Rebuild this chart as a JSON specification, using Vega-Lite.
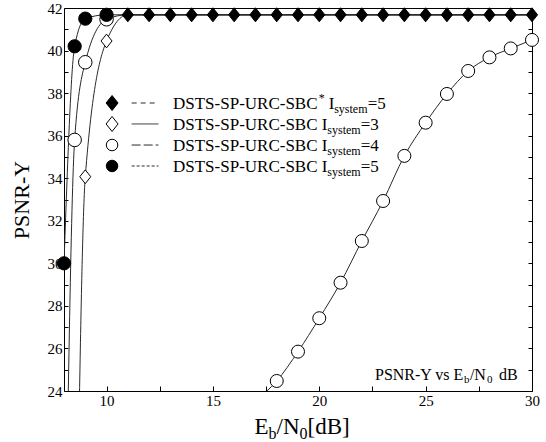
{
  "$schema": "https://vega.github.io/schema/vega-lite/v6.json",
  "width": 468,
  "height": 383,
  "autosize": {"type": "none"},
  "padding": {"left": 64, "top": 8, "right": 14, "bottom": 51},
  "background": "white",
  "config": {
    "view": {"stroke": "black", "strokeWidth": 1},
    "font": "Liberation Serif",
    "axis": {"grid": false, "domain": false, "labelFont": "Liberation Serif", "labelFontSize": 15, "labelColor": "black", "tickColor": "black", "labelOverlap": false, "labelFlush": false, "titleFont": "Liberation Serif", "titleColor": "black", "titleFontWeight": "normal"}
  },
  "datasets": {
    "curves": [
      {"s": "other", "x": 17, "y": 23.55, "mk": false},
      {"s": "other", "x": 18, "y": 24.47, "mk": true},
      {"s": "other", "x": 19, "y": 25.85, "mk": true},
      {"s": "other", "x": 20, "y": 27.42, "mk": true},
      {"s": "other", "x": 21, "y": 29.09, "mk": true},
      {"s": "other", "x": 22, "y": 31.05, "mk": true},
      {"s": "other", "x": 23, "y": 32.93, "mk": true},
      {"s": "other", "x": 24, "y": 35.05, "mk": true},
      {"s": "other", "x": 25, "y": 36.61, "mk": true},
      {"s": "other", "x": 26, "y": 37.96, "mk": true},
      {"s": "other", "x": 27, "y": 39.04, "mk": true},
      {"s": "other", "x": 28, "y": 39.68, "mk": true},
      {"s": "other", "x": 29, "y": 40.1, "mk": true},
      {"s": "other", "x": 30, "y": 40.5, "mk": true},
      {"s": "sys3", "x": 8.5, "y": 9, "mk": false},
      {"s": "sys3", "x": 9, "y": 34.07, "mk": true},
      {"s": "sys3", "x": 10, "y": 40.45, "mk": true},
      {"s": "sys3", "x": 11, "y": 41.68, "mk": false},
      {"s": "sys3", "x": 30, "y": 41.68, "mk": false},
      {"s": "sys4", "x": 8, "y": 11, "mk": false},
      {"s": "sys4", "x": 8.5, "y": 35.8, "mk": true},
      {"s": "sys4", "x": 9, "y": 39.45, "mk": true},
      {"s": "sys4", "x": 10, "y": 41.47, "mk": true},
      {"s": "sys4", "x": 11, "y": 41.68, "mk": false},
      {"s": "sys4", "x": 30, "y": 41.68, "mk": false},
      {"s": "sys5", "x": 8, "y": 30.0, "mk": true},
      {"s": "sys5", "x": 8.5, "y": 40.2, "mk": true},
      {"s": "sys5", "x": 9, "y": 41.5, "mk": true},
      {"s": "sys5", "x": 10, "y": 41.68, "mk": true},
      {"s": "sys5", "x": 11, "y": 41.68, "mk": false},
      {"s": "sys5", "x": 30, "y": 41.68, "mk": false},
      {"s": "star5", "x": 11, "y": 41.68, "mk": true},
      {"s": "star5", "x": 12, "y": 41.68, "mk": true},
      {"s": "star5", "x": 13, "y": 41.68, "mk": true},
      {"s": "star5", "x": 14, "y": 41.68, "mk": true},
      {"s": "star5", "x": 15, "y": 41.68, "mk": true},
      {"s": "star5", "x": 16, "y": 41.68, "mk": true},
      {"s": "star5", "x": 17, "y": 41.68, "mk": true},
      {"s": "star5", "x": 18, "y": 41.68, "mk": true},
      {"s": "star5", "x": 19, "y": 41.68, "mk": true},
      {"s": "star5", "x": 20, "y": 41.68, "mk": true},
      {"s": "star5", "x": 21, "y": 41.68, "mk": true},
      {"s": "star5", "x": 22, "y": 41.68, "mk": true},
      {"s": "star5", "x": 23, "y": 41.68, "mk": true},
      {"s": "star5", "x": 24, "y": 41.68, "mk": true},
      {"s": "star5", "x": 25, "y": 41.68, "mk": true},
      {"s": "star5", "x": 26, "y": 41.68, "mk": true},
      {"s": "star5", "x": 27, "y": 41.68, "mk": true},
      {"s": "star5", "x": 28, "y": 41.68, "mk": true},
      {"s": "star5", "x": 29, "y": 41.68, "mk": true},
      {"s": "star5", "x": 30, "y": 41.68, "mk": true}
    ],
    "leg": [
      {"s": "star5", "y": 37.535},
      {"s": "sys3", "y": 36.55},
      {"s": "sys4", "y": 35.56},
      {"s": "sys5", "y": 34.575}
    ],
    "txt": [
      {"t": "DSTS-SP-URC-SBC", "x": 13.124, "y": 37.535, "k": "leg"},
      {"t": "*", "x": 19.97, "y": 37.535, "k": "legsup"},
      {"t": "I", "x": 20.44, "y": 37.535, "k": "leg"},
      {"t": "system", "x": 20.7, "y": 37.535, "k": "legsub"},
      {"t": "=5", "x": 22.28, "y": 37.535, "k": "leg"},
      {"t": "DSTS-SP-URC-SBC I", "x": 13.124, "y": 36.55, "k": "leg"},
      {"t": "system", "x": 20.38, "y": 36.55, "k": "legsub"},
      {"t": "=3", "x": 21.95, "y": 36.55, "k": "leg"},
      {"t": "DSTS-SP-URC-SBC I", "x": 13.124, "y": 35.56, "k": "leg"},
      {"t": "system", "x": 20.38, "y": 35.56, "k": "legsub"},
      {"t": "=4", "x": 21.95, "y": 35.56, "k": "leg"},
      {"t": "DSTS-SP-URC-SBC I", "x": 13.124, "y": 34.575, "k": "leg"},
      {"t": "system", "x": 20.38, "y": 34.575, "k": "legsub"},
      {"t": "=5", "x": 21.95, "y": 34.575, "k": "leg"},
      {"t": "E", "x": 16.95, "y": 21.98, "k": "title"},
      {"t": "b", "x": 17.61, "y": 21.98, "k": "titlesub"},
      {"t": "/N", "x": 17.99, "y": 21.98, "k": "title"},
      {"t": "0", "x": 19.07, "y": 21.98, "k": "titlesub"},
      {"t": "[dB]", "x": 19.45, "y": 21.98, "k": "title"},
      {"t": "PSNR-Y vs E", "x": 22.62, "y": 24.52, "k": "ann"},
      {"t": "b", "x": 26.8, "y": 24.52, "k": "annsub"},
      {"t": "/N", "x": 27.08, "y": 24.52, "k": "ann"},
      {"t": "0", "x": 27.88, "y": 24.52, "k": "annsub"},
      {"t": "dB", "x": 28.45, "y": 24.52, "k": "ann"}
    ]
  },
  "resolve": {"axis": {"y": "independent"}},
  "layer": [
    {
      "data": {"name": "curves"},
      "mark": {"type": "line", "interpolate": "monotone", "clip": true, "strokeWidth": 1, "color": "#2a2a2a"},
      "encoding": {
        "x": {"field": "x", "type": "quantitative", "scale": {"domain": [8, 30], "nice": false, "zero": false},
          "axis": {"values": [10, 12.5, 15, 17.5, 20, 22.5, 25, 27.5, 30], "labelExpr": "datum.value % 5 === 0 ? datum.label : ''", "tickSize": -5, "labelPadding": 7, "title": null, "labelFont": "Liberation Serif", "labelFontSize": 15}},
        "y": {"field": "y", "type": "quantitative", "scale": {"domain": [24, 42], "nice": false, "zero": false},
          "axis": {"values": [24,25,26,27,28,29,30,31,32,33,34,35,36,37,38,39,40,41,42], "labelExpr": "datum.value % 2 === 0 ? datum.label : ''", "tickSize": -4, "labelPadding": 6, "labelFont": "Liberation Serif", "labelFontSize": 15, "title": "PSNR-Y", "titleFont": "Liberation Serif", "titleFontSize": 22, "titlePadding": 14}},
        "detail": {"field": "s"}
      }
    },
    {
      "data": {"name": "curves"},
      "transform": [{"filter": "datum.mk"}],
      "mark": {"type": "point", "filled": true, "stroke": "black", "strokeWidth": 1, "opacity": 1},
      "encoding": {
        "x": {"field": "x", "type": "quantitative"},
        "y": {"field": "y", "type": "quantitative", "scale": {"domain": [24, 42], "nice": false, "zero": false},
          "axis": {"orient": "right", "values": [24,25,26,27,28,29,30,31,32,33,34,35,36,37,38,39,40,41,42], "labels": false, "tickSize": -4, "title": null}},
        "shape": {"field": "s", "type": "nominal", "legend": null,
          "scale": {"domain": ["star5", "sys3", "sys4", "sys5", "other"], "range": ["M0,-1L0.8,0L0,1L-0.8,0Z", "M0,-1L0.8,0L0,1L-0.8,0Z", "circle", "circle", "circle"]}},
        "fill": {"field": "s", "type": "nominal", "legend": null,
          "scale": {"domain": ["star5", "sys3", "sys4", "sys5", "other"], "range": ["black", "white", "white", "black", "white"]}},
        "size": {"field": "s", "type": "nominal", "legend": null,
          "scale": {"domain": ["star5", "sys3", "sys4", "sys5", "other"], "range": [196, 169, 105, 105, 92]}}
      }
    },
    {
      "data": {"name": "leg"},
      "mark": {"type": "rule", "strokeWidth": 1, "color": "#2a2a2a"},
      "encoding": {
        "x": {"datum": 11.18, "type": "quantitative"},
        "x2": {"datum": 12.44},
        "y": {"field": "y", "type": "quantitative", "axis": null},
        "strokeDash": {"field": "s", "type": "nominal", "legend": null,
          "scale": {"domain": ["star5", "sys3", "sys4", "sys5"], "range": [[5, 4], [1, 0], [9, 3], [3, 2]]}}
      }
    },
    {
      "data": {"name": "leg"},
      "mark": {"type": "point", "filled": true, "stroke": "black", "strokeWidth": 1, "opacity": 1},
      "encoding": {
        "x": {"datum": 10.26, "type": "quantitative"},
        "y": {"field": "y", "type": "quantitative", "axis": null},
        "shape": {"field": "s", "type": "nominal", "legend": null},
        "fill": {"field": "s", "type": "nominal", "legend": null},
        "size": {"condition": {"test": "datum.s === 'star5' || datum.s === 'sys3'", "value": 225}, "value": 133}
      }
    },
    {
      "data": {"name": "txt"},
      "transform": [{"filter": "datum.k === 'leg'"}],
      "mark": {"type": "text", "align": "left", "baseline": "alphabetic", "fontSize": 17, "dy": 6, "font": "Liberation Serif", "color": "black"},
      "encoding": {"x": {"field": "x", "type": "quantitative"}, "y": {"field": "y", "type": "quantitative", "axis": null}, "text": {"field": "t"}}
    },
    {
      "data": {"name": "txt"},
      "transform": [{"filter": "datum.k === 'legsub'"}],
      "mark": {"type": "text", "align": "left", "baseline": "alphabetic", "fontSize": 12, "dy": 10, "font": "Liberation Serif", "color": "black"},
      "encoding": {"x": {"field": "x", "type": "quantitative"}, "y": {"field": "y", "type": "quantitative", "axis": null}, "text": {"field": "t"}}
    },
    {
      "data": {"name": "txt"},
      "transform": [{"filter": "datum.k === 'legsup'"}],
      "mark": {"type": "text", "align": "left", "baseline": "alphabetic", "fontSize": 12, "dy": -1, "font": "Liberation Serif", "color": "black"},
      "encoding": {"x": {"field": "x", "type": "quantitative"}, "y": {"field": "y", "type": "quantitative", "axis": null}, "text": {"field": "t"}}
    },
    {
      "data": {"name": "txt"},
      "transform": [{"filter": "datum.k === 'title'"}],
      "mark": {"type": "text", "align": "left", "baseline": "alphabetic", "fontSize": 23, "font": "Liberation Serif", "color": "black"},
      "encoding": {"x": {"field": "x", "type": "quantitative"}, "y": {"field": "y", "type": "quantitative", "axis": null}, "text": {"field": "t"}}
    },
    {
      "data": {"name": "txt"},
      "transform": [{"filter": "datum.k === 'titlesub'"}],
      "mark": {"type": "text", "align": "left", "baseline": "alphabetic", "fontSize": 16, "dy": 5, "font": "Liberation Serif", "color": "black"},
      "encoding": {"x": {"field": "x", "type": "quantitative"}, "y": {"field": "y", "type": "quantitative", "axis": null}, "text": {"field": "t"}}
    },
    {
      "data": {"name": "txt"},
      "transform": [{"filter": "datum.k === 'ann'"}],
      "mark": {"type": "text", "align": "left", "baseline": "alphabetic", "fontSize": 16, "font": "Liberation Serif", "color": "black"},
      "encoding": {"x": {"field": "x", "type": "quantitative"}, "y": {"field": "y", "type": "quantitative", "axis": null}, "text": {"field": "t"}}
    },
    {
      "data": {"name": "txt"},
      "transform": [{"filter": "datum.k === 'annsub'"}],
      "mark": {"type": "text", "align": "left", "baseline": "alphabetic", "fontSize": 11, "dy": 3, "font": "Liberation Serif", "color": "black"},
      "encoding": {"x": {"field": "x", "type": "quantitative"}, "y": {"field": "y", "type": "quantitative", "axis": null}, "text": {"field": "t"}}
    }
  ]
}
